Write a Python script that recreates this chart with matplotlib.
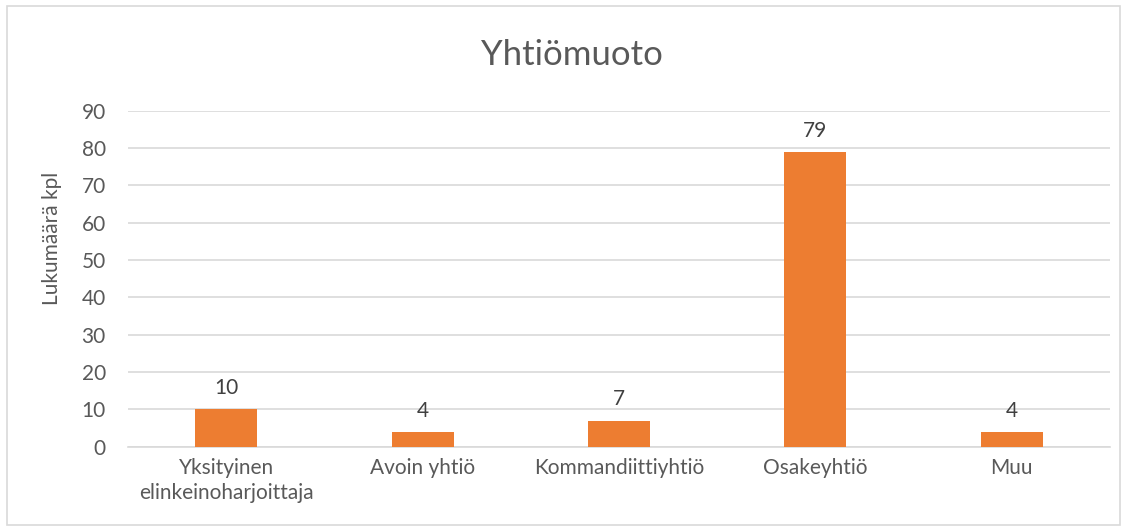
import matplotlib.pyplot as plt
from matplotlib.patches import Rectangle

# Data
categories = ['Yksityinen\nelinkeinoharjoittaja', 'Avoin yhtiö', 'Kommandiittiyhtiö', 'Osakeyhtiö', 'Muu']
values = [10, 4, 7, 79, 4]
y_ticks = [0, 10, 20, 30, 40, 50, 60, 70, 80, 90]

plt.rcParams['font.family'] = ['Lato', 'DejaVu Sans']
text_color = '#595959'
bar_color = '#ED7D31'
grid_color = '#D9D9D9'
fs = 15

fig = plt.figure(figsize=(11.26, 5.29), dpi=100)
ax = fig.add_axes([0.1137, 0.1556, 0.8721, 0.6351])

x = range(len(categories))
bars = ax.bar(x, values, width=0.316, color=bar_color, zorder=3)

# Werte ueber den Balken
for xi, v in zip(x, values):
    ax.annotate(str(v), (xi, v), xytext=(0, 8), textcoords='offset points',
                ha='center', va='bottom', fontsize=fs, color='#404040')

ax.set_xlim(-0.5, len(categories) - 0.5)
ax.set_ylim(0, 90)
ax.set_yticks(y_ticks)
ax.set_xticks(list(x))
ax.set_xticklabels(categories, fontsize=fs, color=text_color, linespacing=1.35)
ax.tick_params(axis='x', length=0, pad=8)
ax.tick_params(axis='y', length=0, pad=16, labelsize=fs, labelcolor=text_color)

ax.grid(axis='y', color=grid_color, linewidth=1.2, zorder=0)
for s in ['top', 'right', 'left']:
    ax.spines[s].set_visible(False)
ax.spines['bottom'].set_color(grid_color)
ax.spines['bottom'].set_linewidth(1.2)

ax.set_ylabel('Lukumäärä kpl', fontsize=fs, color=text_color)
ax.yaxis.set_label_coords(-0.0672, 0.62)

fig.text(0.508, 0.896, 'Yhtiömuoto', ha='center', va='center', fontsize=25, color=text_color)

# Rahmen um das Diagramm
fig.patches.append(Rectangle((0.006, 0.008), 0.989, 0.98, transform=fig.transFigure,
                             fill=False, edgecolor='#D9D9D9', linewidth=1.2))

plt.savefig('out.png', dpi=100)
plt.close()
